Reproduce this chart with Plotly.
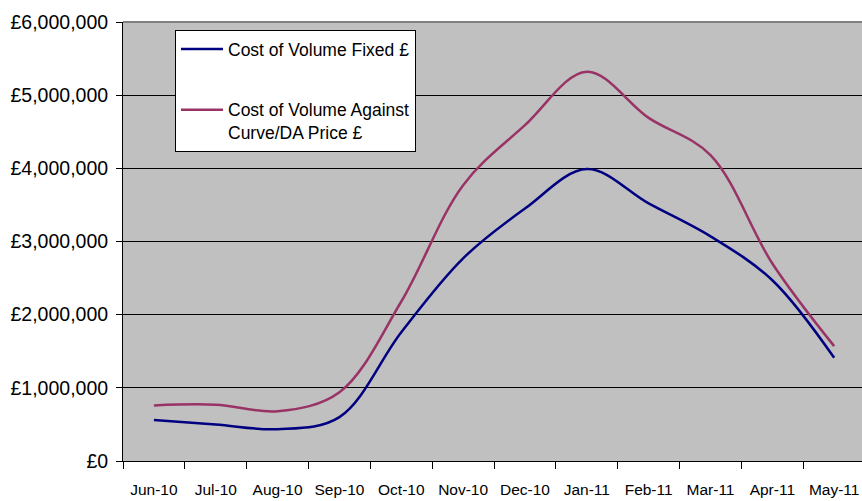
import plotly.graph_objects as go

months = ["Jun-10", "Jul-10", "Aug-10", "Sep-10", "Oct-10", "Nov-10",
          "Dec-10", "Jan-11", "Feb-11", "Mar-11", "Apr-11", "May-11"]
cost_fixed = [560000, 500000, 435000, 600000, 1760000, 2770000,
              3450000, 3990000, 3520000, 3070000, 2470000, 1410000]
cost_curve = [760000, 770000, 680000, 940000, 2180000, 3770000,
              4590000, 5320000, 4690000, 4180000, 2700000, 1570000]
name_fixed = "Cost of Volume Fixed £"
name_curve = "Cost of Volume Against<br>Curve/DA Price £"

W, H = 862, 501
L, R, T, B = 123, 0, 22, 40
font = "Liberation Sans, Arial, sans-serif"

fig = go.Figure()
fig.add_trace(go.Scatter(x=months, y=cost_fixed, name=name_fixed, mode="lines",
                         line=dict(color="#000080", width=2.5, shape="spline", smoothing=1.0),
                         legendgroup="a"))
fig.add_trace(go.Scatter(x=months, y=cost_curve, name=name_curve, mode="lines",
                         line=dict(color="#993366", width=2.5, shape="spline", smoothing=1.0),
                         legendgroup="b"))

fig.update_layout(
    width=W, height=H,
    margin=dict(l=L, r=R, t=T, b=B, pad=0, autoexpand=False),
    paper_bgcolor="white",
    plot_bgcolor="#C0C0C0",
    font=dict(family=font, color="black"),
    showlegend=True,
    legend=dict(
        x=(175 - L) / (W - L - R), y=(H - B - 30) / (H - T - B),
        xanchor="left", yanchor="top",
        bgcolor="white", bordercolor="black", borderwidth=1,
        font=dict(size=17.5, family=font, color="black"),
        traceorder="grouped", tracegroupgap=35,
        valign="top", itemwidth=42,
    ),
    xaxis=dict(
        type="category",
        range=[-0.5, 11.45],
        automargin=False,
        showgrid=False,
        showline=True, linecolor="black", linewidth=1,
        ticks="outside", tickson="boundaries", ticklen=7, tickcolor="black",
        tickfont=dict(size=15.5, family=font, color="black"),
        ticklabelstandoff=14,
    ),
    yaxis=dict(
        range=[0, 6000000], dtick=1000000,
        automargin=False,
        tickprefix="£", tickformat=",.0f",
        showgrid=True, gridcolor="black", gridwidth=1,
        showline=True, linecolor="black", linewidth=1,
        ticks="outside", ticklen=6, tickcolor="black",
        tickfont=dict(size=19.5, family=font, color="black"),
        ticklabelstandoff=4,
        zeroline=False,
    ),
    shapes=[dict(type="line", xref="paper", yref="paper", x0=0, x1=1, y0=1, y1=1,
                 line=dict(color="#808080", width=2), layer="above")],
)

fig.write_html(
    "out.html",
    config={"displayModeBar": False},
    post_script="document.body.style.margin='0';document.body.style.overflow='hidden';",
)
